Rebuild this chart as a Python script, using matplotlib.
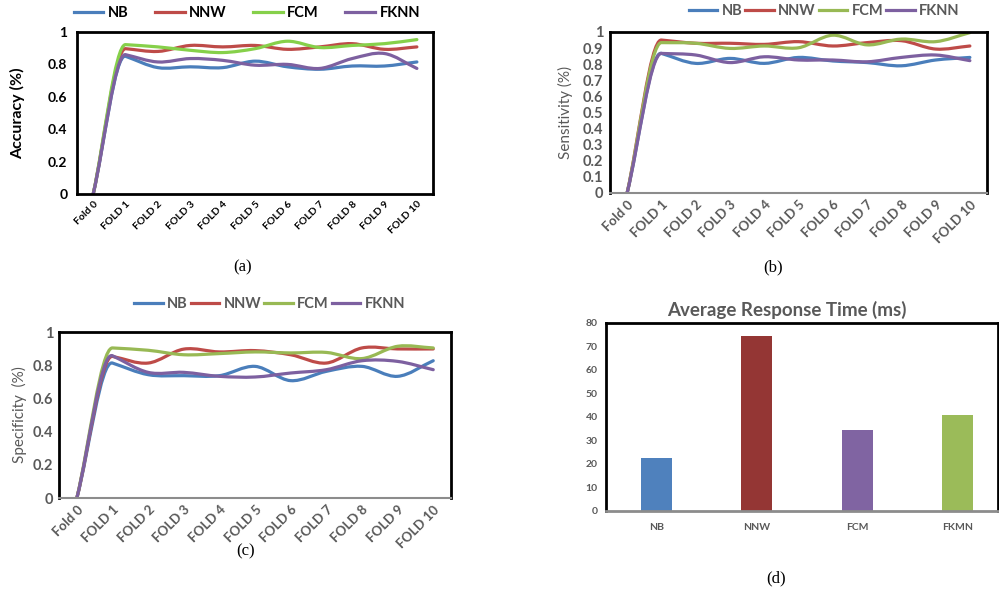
import numpy as np
import matplotlib
matplotlib.use("Agg")
import matplotlib.pyplot as plt
from matplotlib.path import Path
from matplotlib.patches import PathPatch
from matplotlib.lines import Line2D

plt.rcParams["font.family"] = ["Lato", "DejaVu Sans"]

# data
folds = ["Fold 0", "FOLD 1", "FOLD 2", "FOLD 3", "FOLD 4", "FOLD 5",
         "FOLD 6", "FOLD 7", "FOLD 8", "FOLD 9", "FOLD 10"]
methods = ["NB", "NNW", "FCM", "FKNN"]

acc_nb   = [0, 0.85, 0.78, 0.785, 0.78, 0.82, 0.785, 0.77, 0.79, 0.79, 0.815]
acc_nnw  = [0, 0.897, 0.88, 0.917, 0.908, 0.917, 0.893, 0.908, 0.928, 0.893, 0.908]
acc_fcm  = [0, 0.922, 0.908, 0.887, 0.873, 0.897, 0.943, 0.904, 0.917, 0.928, 0.953]
acc_fknn = [0, 0.86, 0.815, 0.836, 0.825, 0.795, 0.80, 0.775, 0.836, 0.867, 0.775]

sen_nb   = [0, 0.867, 0.805, 0.836, 0.805, 0.842, 0.82, 0.81, 0.79, 0.826, 0.842]
sen_nnw  = [0, 0.95, 0.93, 0.93, 0.923, 0.94, 0.913, 0.934, 0.946, 0.894, 0.913]
sen_fcm  = [0, 0.934, 0.93, 0.898, 0.913, 0.902, 0.98, 0.92, 0.956, 0.94, 0.996]
sen_fknn = [0, 0.867, 0.857, 0.81, 0.846, 0.826, 0.826, 0.815, 0.842, 0.857, 0.822]

spe_nb   = [0, 0.813, 0.743, 0.737, 0.737, 0.793, 0.707, 0.763, 0.793, 0.733, 0.827]
spe_nnw  = [0, 0.853, 0.813, 0.897, 0.88, 0.888, 0.863, 0.813, 0.904, 0.898, 0.898]
spe_fcm  = [0, 0.904, 0.89, 0.863, 0.87, 0.88, 0.874, 0.877, 0.84, 0.914, 0.904]
spe_fknn = [0, 0.857, 0.757, 0.757, 0.733, 0.729, 0.753, 0.773, 0.827, 0.823, 0.773]

bar_names = ["NB", "NNW", "FCM", "FKMN"]
bar_times = [22.5, 74.5, 34.5, 41]

# Excel 2010 style palette
BLUE, RED, GREEN, PURPLE = "#4A7EBB", "#BE4B48", "#98B954", "#7D60A0"
GREEN_A = "#86D04A"
BAR_COLORS = ["#4F81BD", "#943634", "#8064A2", "#9BBB59"]
GRAYTXT = "#595959"


def smooth_line(ax, y, color):
    # smoothed line like Excel: cubic bezier through every point,
    # tangent tamed next to the big jump so it doesn't overshoot
    y = np.asarray(y, dtype=float)
    n = len(y)
    d = np.diff(y)
    m = np.zeros(n)
    m[0], m[-1] = d[0], d[-1]
    for i in range(1, n - 1):
        a, b = d[i - 1], d[i]
        lo, hi = sorted([abs(a), abs(b)])
        if hi > 0.2 and hi > 5 * lo:
            m[i] = a if abs(a) < abs(b) else b
        else:
            m[i] = (a + b) / 2
    verts = [(0.0, y[0])]
    codes = [Path.MOVETO]
    for i in range(n - 1):
        verts += [(i + 1 / 3, y[i] + m[i] / 3),
                  (i + 2 / 3, y[i + 1] - m[i + 1] / 3),
                  (i + 1.0, y[i + 1])]
        codes += [Path.CURVE4] * 3
    ax.add_patch(PathPatch(Path(verts, codes), fill=False, edgecolor=color,
                           linewidth=2.3, capstyle="round", joinstyle="round"))


def line_panel(rect, series, colors, yticks, ylabel, txtcolor, bottom_col,
               ytick_fs, xtick_fs, ylabel_fs, ylabel_weight, ylabel_x, ypad):
    ax = fig.add_axes(rect)
    for s, c in zip(series, colors):
        smooth_line(ax, s, c)
    ax.set_xlim(-0.5, len(folds) - 0.5)
    ax.set_ylim(0, 1)
    ax.set_xticks(range(len(folds)))
    ax.set_xticklabels(folds, rotation=45, ha="right", rotation_mode="anchor",
                       fontsize=xtick_fs, fontweight="bold", color=txtcolor)
    ax.set_yticks(yticks)
    ax.set_yticklabels([f"{t:g}" for t in yticks], fontsize=ytick_fs,
                       fontweight="bold", color=txtcolor)
    ax.tick_params(axis="x", length=0, pad=4)
    ax.tick_params(axis="y", length=0, pad=ypad)
    for sp in ["top", "left", "right"]:
        ax.spines[sp].set_linewidth(2)
        ax.spines[sp].set_color("black")
    ax.spines["bottom"].set_linewidth(2 if bottom_col == "black" else 1.5)
    ax.spines["bottom"].set_color(bottom_col)
    ax.set_ylabel(ylabel, fontsize=ylabel_fs, fontweight=ylabel_weight,
                  color=txtcolor)
    ax.yaxis.set_label_coords(ylabel_x, 0.5)
    return ax


def add_legend(colors, cx, cy, txtcolor, fs, colsp, hlen, weight):
    handles = [Line2D([], [], color=c, linewidth=2.3) for c in colors]
    fig.legend(handles, methods, loc="center", bbox_to_anchor=(cx, cy),
               ncol=4, frameon=False, handlelength=hlen, handletextpad=0.3,
               columnspacing=colsp, prop={"weight": weight, "size": fs},
               labelcolor=txtcolor, borderpad=0, borderaxespad=0)


fig = plt.figure(figsize=(9.99, 5.98), dpi=100)

# (a) accuracy
line_panel([0.0771, 0.6756, 0.3564, 0.2709],
           [acc_nb, acc_nnw, acc_fcm, acc_fknn],
           [BLUE, RED, GREEN_A, PURPLE],
           [0, 0.2, 0.4, 0.6, 0.8, 1], "Accuracy (%)", "black", "black",
           10, 7.5, 11.5, "bold", -0.146, 7)
add_legend([BLUE, RED, GREEN_A, PURPLE], 0.247, 0.978, "black", 10.5, 1.8,
           2.05, "bold")

# (b) sensitivity
line_panel([0.6106, 0.6773, 0.3774, 0.2692],
           [sen_nb, sen_nnw, sen_fcm, sen_fknn],
           [BLUE, RED, GREEN, PURPLE],
           [round(0.1 * i, 1) for i in range(11)], "Sensitivity (%)",
           GRAYTXT, "#8c8c8c", 10.5, 9.5, 11, "normal", -0.098, 5)
add_legend([BLUE, RED, GREEN, PURPLE], 0.825, 0.982, GRAYTXT, 10.5, 0.2, 1.95,
           "bold")

# (c) specificity
line_panel([0.0591, 0.1672, 0.3924, 0.2776],
           [spe_nb, spe_nnw, spe_fcm, spe_fknn],
           [BLUE, RED, GREEN, PURPLE],
           [0, 0.2, 0.4, 0.6, 0.8, 1], "Specificity  (%)", GRAYTXT, "#8c8c8c",
           10.5, 9.5, 11, "normal", -0.082, 4)
add_legend([BLUE, RED, GREEN, PURPLE], 0.27, 0.491, GRAYTXT, 10.5, 0.2, 1.95,
           "bold")

# (d) average response time
axd = fig.add_axes([0.6066, 0.1455, 0.3924, 0.3144])
xb = np.arange(len(bar_names))
axd.bar(xb, bar_times, width=0.31, color=BAR_COLORS)
axd.set_xlim(-0.5, 3.4)
axd.set_ylim(0, 80)
axd.set_xticks(xb)
axd.set_xticklabels(bar_names, fontsize=7.5, fontweight="bold", color=GRAYTXT)
axd.set_yticks(range(0, 81, 10))
axd.set_yticklabels([str(v) for v in range(0, 81, 10)], fontsize=7.5,
                    fontweight="bold", color=GRAYTXT)
axd.tick_params(axis="x", length=0, pad=9)
axd.tick_params(axis="y", length=0, pad=6)
for sp in ["top", "left", "right"]:
    axd.spines[sp].set_linewidth(2)
    axd.spines[sp].set_color("black")
axd.spines["bottom"].set_linewidth(2)
axd.spines["bottom"].set_color("#8c8c8c")
fig.text(0.788, 0.481, "Average Response Time (ms)", ha="center", va="center",
         fontsize=13.5, fontweight="bold", color=GRAYTXT)

# sub-figure captions
cap = dict(ha="center", va="center", fontsize=12,
           family=["Liberation Serif", "DejaVu Serif"])
fig.text(243 / 999, 1 - 267 / 598, "(a)", **cap)
fig.text(773 / 999, 1 - 267 / 598, "(b)", **cap)
fig.text(246 / 999, 1 - 551 / 598, "(c)", **cap)
fig.text(776 / 999, 1 - 578 / 598, "(d)", **cap)

fig.savefig("out.png", dpi=100)
